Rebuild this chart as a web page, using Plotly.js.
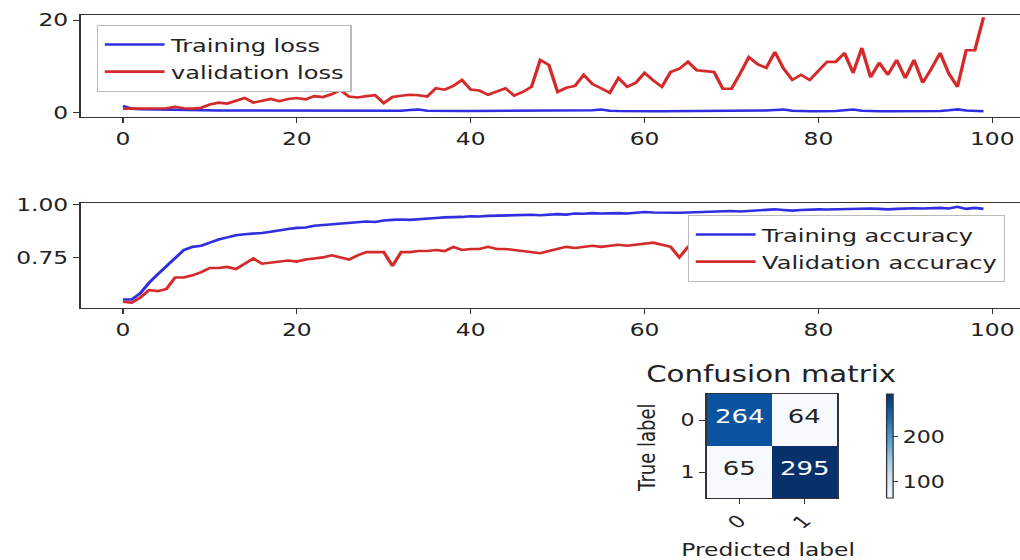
<!DOCTYPE html>
<html>
<head>
<meta charset="utf-8">
<script src="https://cdn.plot.ly/plotly-3.0.1.min.js"></script>
<style>
html,body{margin:0;padding:0;overflow:hidden;background:#fff;width:1020px;height:560px;}
#plot{width:800px;height:560px;transform:scaleX(1.3);transform-origin:0 0;}
</style>
</head>
<body>
<div id="plot"></div>
<script>
// ---------- data ----------
const epochs = Array.from({length:100},(_,i)=>i);
const trainLoss = [1.5,0.9,0.8,0.75,0.7,0.65,0.6,0.6,0.55,0.55,
 0.5,0.5,0.5,0.5,0.45,0.45,0.45,0.45,0.45,0.4,
 0.4,0.4,0.4,0.4,0.4,0.4,0.4,0.4,0.4,0.4,
 0.4,0.4,0.45,0.6,0.7,0.45,0.4,0.4,0.4,0.4,
 0.4,0.4,0.4,0.4,0.4,0.4,0.4,0.4,0.45,0.4,
 0.4,0.4,0.4,0.4,0.55,0.7,0.45,0.4,0.35,0.35,
 0.35,0.35,0.35,0.35,0.35,0.35,0.35,0.35,0.35,0.35,
 0.35,0.35,0.4,0.45,0.5,0.6,0.7,0.45,0.35,0.35,
 0.35,0.35,0.4,0.55,0.7,0.45,0.35,0.35,0.35,0.35,
 0.35,0.35,0.35,0.35,0.4,0.55,0.75,0.5,0.35,0.35];
const valLoss = [0.9,0.9,0.9,0.9,1.0,1.0,1.3,1.0,0.9,1.1,
 1.8,2.2,2.0,2.6,3.2,2.2,2.6,3.0,2.5,3.0,
 3.2,2.9,3.6,3.4,4.0,4.9,3.5,3.3,3.6,3.8,
 2.1,3.4,3.7,3.9,3.8,3.5,5.3,5.0,5.8,7.1,
 5.0,4.8,3.9,4.6,5.3,3.7,4.5,5.6,11.4,10.3,
 4.5,5.4,5.8,8.2,6.2,5.3,4.3,7.5,5.6,6.5,
 8.6,7.0,5.6,8.8,9.5,11.0,9.2,9.0,8.8,5.2,
 5.2,8.5,12.0,10.5,9.7,13.1,9.5,7.1,8.2,7.1,
 9.0,11.0,11.0,12.9,8.6,14.0,7.7,10.8,8.2,11.4,
 7.5,11.4,6.5,9.5,12.9,8.5,5.6,13.5,13.5,20.6];
const trainAcc = [0.55,0.55,0.58,0.63,0.67,0.71,0.75,0.785,0.80,0.805,
 0.82,0.835,0.845,0.855,0.86,0.862,0.866,0.872,0.88,0.885,
 0.89,0.892,0.90,0.903,0.907,0.91,0.912,0.915,0.92,0.918,
 0.925,0.928,0.93,0.928,0.932,0.935,0.937,0.94,0.94,0.942,
 0.945,0.944,0.947,0.948,0.95,0.948,0.95,0.952,0.95,0.953,
 0.955,0.953,0.958,0.957,0.96,0.958,0.96,0.96,0.958,0.962,
 0.965,0.963,0.962,0.96,0.962,0.963,0.965,0.967,0.966,0.968,
 0.97,0.968,0.97,0.972,0.975,0.978,0.975,0.972,0.975,0.977,
 0.978,0.977,0.978,0.98,0.978,0.98,0.982,0.98,0.978,0.98,
 0.982,0.983,0.982,0.983,0.985,0.982,0.99,0.98,0.985,0.98];
const valAcc = [0.54,0.535,0.56,0.595,0.59,0.60,0.655,0.655,0.665,0.68,
 0.70,0.70,0.705,0.695,0.72,0.745,0.72,0.725,0.73,0.735,
 0.73,0.74,0.745,0.75,0.76,0.75,0.74,0.76,0.775,0.775,
 0.775,0.71,0.775,0.775,0.78,0.78,0.785,0.78,0.80,0.785,
 0.79,0.79,0.80,0.79,0.79,0.785,0.78,0.775,0.77,0.78,
 0.79,0.80,0.795,0.80,0.805,0.80,0.805,0.81,0.805,0.81,
 0.815,0.82,0.81,0.80,0.75,0.80,0.81,0.815,0.82,0.815,
 0.82,0.82,0.825,0.82,0.825,0.83,0.825,0.82,0.83,0.825,
 0.83,0.83,0.825,0.83,0.835,0.83,0.83,0.835,0.83,0.835,
 0.83,0.835,0.84,0.835,0.83,0.835,0.84,0.835,0.83,0.835];
const epochTicks = [0,20,40,60,80,100];
const lossTicks = [0,20];
const accTicks = [0.75,1.00];
const cmLabels = ['0','1'];
const cmValues = [[264,64],[65,295]];
const cbTicks = [100,200];

// ---------- style ----------
const W = 1040, H = 560;          // visual (stretched) frame
const fx = px => px / W;           // visual px -> paper x
const fy = py => 1 - py / H;       // visual px -> paper y
const FONT = 'DejaVu Sans, sans-serif';
const AX = '#333';
const BLUE = '#2f2fe0', RED = '#d42a2a';
const blues = [[0,'#f7fbff'],[0.125,'#deebf7'],[0.25,'#c6dbef'],[0.375,'#9ecae1'],
  [0.5,'#6baed6'],[0.625,'#4292c6'],[0.75,'#2171b5'],[0.875,'#08519c'],[1,'#08306b']];

const lineAxis = (extra) => Object.assign({
  showline:true, mirror:true, linecolor:AX, linewidth:1.2,
  ticks:'outside', ticklen:5, tickcolor:AX, showgrid:false, zeroline:false,
  tickfont:{family:FONT,size:18,color:'#222'}
}, extra);

const traces = [
  {x:epochs,y:trainLoss,name:'Training loss',type:'scatter',mode:'lines',
   line:{color:BLUE,width:2.6},xaxis:'x',yaxis:'y',legend:'legend'},
  {x:epochs,y:valLoss,name:'validation loss',type:'scatter',mode:'lines',
   line:{color:RED,width:2.6},xaxis:'x',yaxis:'y',legend:'legend'},
  {x:epochs,y:trainAcc,name:'Training accuracy',type:'scatter',mode:'lines',
   line:{color:BLUE,width:2.6},xaxis:'x2',yaxis:'y2',legend:'legend2'},
  {x:epochs,y:valAcc,name:'Validation accuracy',type:'scatter',mode:'lines',
   line:{color:RED,width:2.6},xaxis:'x2',yaxis:'y2',legend:'legend2'},
  {z:cmValues,x:cmLabels,y:cmLabels,type:'heatmap',xaxis:'x3',yaxis:'y3',
   colorscale:blues,showlegend:false,xgap:0,ygap:0,
   colorbar:{x:fx(886),xanchor:'left',y:fy(446),yanchor:'middle',
     len:104/H,lenmode:'fraction',thickness:7/1.3,thicknessmode:'pixels',
     outlinecolor:AX,outlinewidth:1,tickvals:cbTicks,ticks:'outside',ticklen:4,
     tickcolor:AX,tickfont:{family:FONT,size:17,color:'#222'},xpad:0,ypad:0}}
];

const annotations = [];
for (let r=0;r<2;r++) for (let c=0;c<2;c++){
  const v = cmValues[r][c];
  annotations.push({x:cmLabels[c],y:cmLabels[r],xref:'x3',yref:'y3',text:String(v),
    yshift:4,showarrow:false,font:{family:FONT,size:20,color: v>180?'#ffffff':'#222'}});
}
const paperText = (text,x,y,size,angle) => ({text:text,xref:'paper',yref:'paper',
  x:fx(x),y:fy(y),xanchor:'center',yanchor:'middle',textangle:angle||0,
  showarrow:false,font:{family:FONT,size:size,color:'#222'}});
annotations.push(paperText('Confusion matrix',771,374,22.5));
annotations.push(paperText('True label',646,447,18,-90));
annotations.push(paperText('Predicted label',768,549,18));

const legendStyle = (x,y) => ({x:fx(x),y:fy(y),xanchor:'left',yanchor:'top',
  bgcolor:'#ffffff',bordercolor:'#bbbbbb',borderwidth:1,
  font:{family:FONT,size:18.5,color:'#222'},itemwidth:46,tracegroupgap:0});

const layout = {
  width:800,height:560,margin:{l:0,r:0,t:0,b:0,autoexpand:false},
  paper_bgcolor:'#fff',plot_bgcolor:'#fff',
  xaxis: lineAxis({domain:[fx(81),fx(1027)],range:[-4.83,104.0],tickvals:epochTicks,anchor:'y'}),
  yaxis: lineAxis({domain:[fy(117),fy(15)],range:[-0.9,21.1],tickvals:lossTicks,anchor:'x'}),
  xaxis2: lineAxis({domain:[fx(81),fx(1027)],range:[-4.83,104.0],tickvals:epochTicks,anchor:'y2'}),
  yaxis2: lineAxis({domain:[fy(308),fy(203)],range:[0.51,1.008],tickvals:accTicks,tickformat:'.2f',anchor:'x2'}),
  xaxis3: lineAxis({domain:[fx(707),fx(837)],anchor:'y3',type:'category',tickangle:-45,
    tickfont:{family:FONT,size:17,color:'#222'}}),
  yaxis3: lineAxis({domain:[fy(498),fy(394)],anchor:'x3',type:'category',autorange:'reversed',
    tickfont:{family:FONT,size:17,color:'#222'}}),
  legend: legendStyle(97,25),
  legend2: legendStyle(688,215),
  annotations: annotations,
  showlegend:true
};

Plotly.newPlot('plot', traces, layout, {staticPlot:true,displayModeBar:false});
</script>
</body>
</html>
